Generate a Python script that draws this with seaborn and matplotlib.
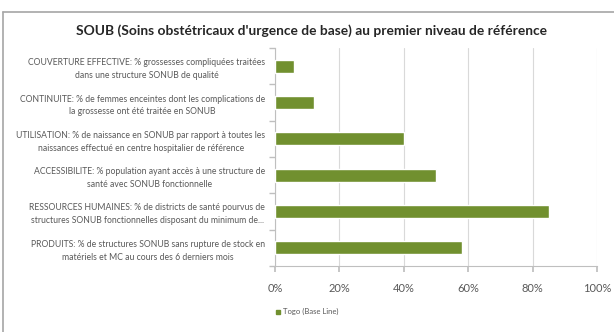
import matplotlib
matplotlib.use("Agg")
import matplotlib.pyplot as plt
import matplotlib.ticker as mticker
from matplotlib.lines import Line2D
from matplotlib.patches import Rectangle
import seaborn as sns
import pandas as pd
import numpy as np

# Indicator labels (two lines each) and Togo baseline values (%)
categories = [
    "COUVERTURE EFFECTIVE: % grossesses compliquées traitées\ndans une structure SONUB de qualité",
    "CONTINUITE: % de femmes enceintes dont les complications de\nla grossesse ont été traitée en SONUB",
    "UTILISATION: % de naissance en SONUB par rapport à toutes les\nnaissances effectué en centre hospitalier de référence",
    "ACCESSIBILITE: % population ayant accès à une structure de\nsanté avec SONUB fonctionnelle",
    "RESSOURCES HUMAINES: % de districts de santé pourvus de\nstructures SONUB fonctionnelles disposant du minimum de...",
    "PRODUITS: % de structures SONUB sans rupture de stock en\nmatériels et MC au cours des 6 derniers mois",
]
togo_values = [6, 12, 40, 50, 85, 58]
series_name = "Togo (Base Line)"
x_ticks = [0, 20, 40, 60, 80, 100]
title = "SOUB (Soins obstétricaux d'urgence de base) au premier niveau de référence"

bar_color = "#71902F"
grid_color = "#D9D9D9"
text_gray = "#595959"

df = pd.DataFrame({"indicateur": categories, "valeur": togo_values})

sns.set_theme(style="white")
plt.rcParams["font.family"] = ["Lato", "DejaVu Sans"]

W, H = 614, 332
fig = plt.figure(figsize=(W / 100, H / 100), dpi=100)
ax = fig.add_axes([275 / W, 1 - 266 / H, (597 - 275) / W, (266 - 48) / H])

sns.barplot(data=df, x="valeur", y="indicateur", orient="h",
            color=bar_color, width=0.36, saturation=1, ax=ax, zorder=3)

ax.set_xlim(0, 100)
ax.set_ylim(len(categories) - 0.5, -0.5)
ax.set_xticks(x_ticks)
ax.xaxis.set_major_formatter(mticker.FuncFormatter(lambda v, p: f"{v:.0f}%"))
ax.set_xlabel("")
ax.set_ylabel("")
ax.grid(axis="x", color=grid_color, linewidth=0.8, zorder=0)
ax.grid(axis="y", visible=False)

for side in ["top", "right"]:
    ax.spines[side].set_visible(False)
for side in ["left", "bottom"]:
    ax.spines[side].set_color("#BFBFBF")
    ax.spines[side].set_linewidth(0.8)

ax.tick_params(axis="x", bottom=True, length=4, color="#BFBFBF",
               labelsize=8, labelcolor=text_gray, pad=8)
# Category labels: centered two-line blocks to the left of the axis
ax.set_yticks(range(len(categories)))
ax.set_yticklabels(categories, fontsize=6.2, color=text_gray,
                   multialignment="center", linespacing=1.55)
ax.tick_params(axis="y", left=False, length=0, pad=7)
ax.set_yticks(np.arange(-0.5, len(categories), 1), minor=True)
ax.tick_params(axis="y", which="minor", left=True, length=4,
               color="#BFBFBF")

fig.text(311 / W, 1 - 31 / H, title, ha="center", va="center",
         fontsize=9.9, fontweight="bold", color="#262626")

# Legend entry below the axis
fig.patches.append(Rectangle((276 / W, 1 - 313.5 / H), 4 / W, 4 / H,
                             transform=fig.transFigure, color=bar_color))
fig.text(283 / W, 1 - 311.5 / H, series_name, ha="left", va="center",
         fontsize=5.5, color=text_gray)

# Chart area frame (top and left edges)
fig.add_artist(Line2D([3 / W, 1], [1 - 12 / H, 1 - 12 / H],
                      transform=fig.transFigure, color="#A6A6A6", lw=1.2))
fig.add_artist(Line2D([3 / W, 3 / W], [0, 1 - 12 / H],
                      transform=fig.transFigure, color="#A6A6A6", lw=1.2))

fig.savefig("out.png", dpi=100)
